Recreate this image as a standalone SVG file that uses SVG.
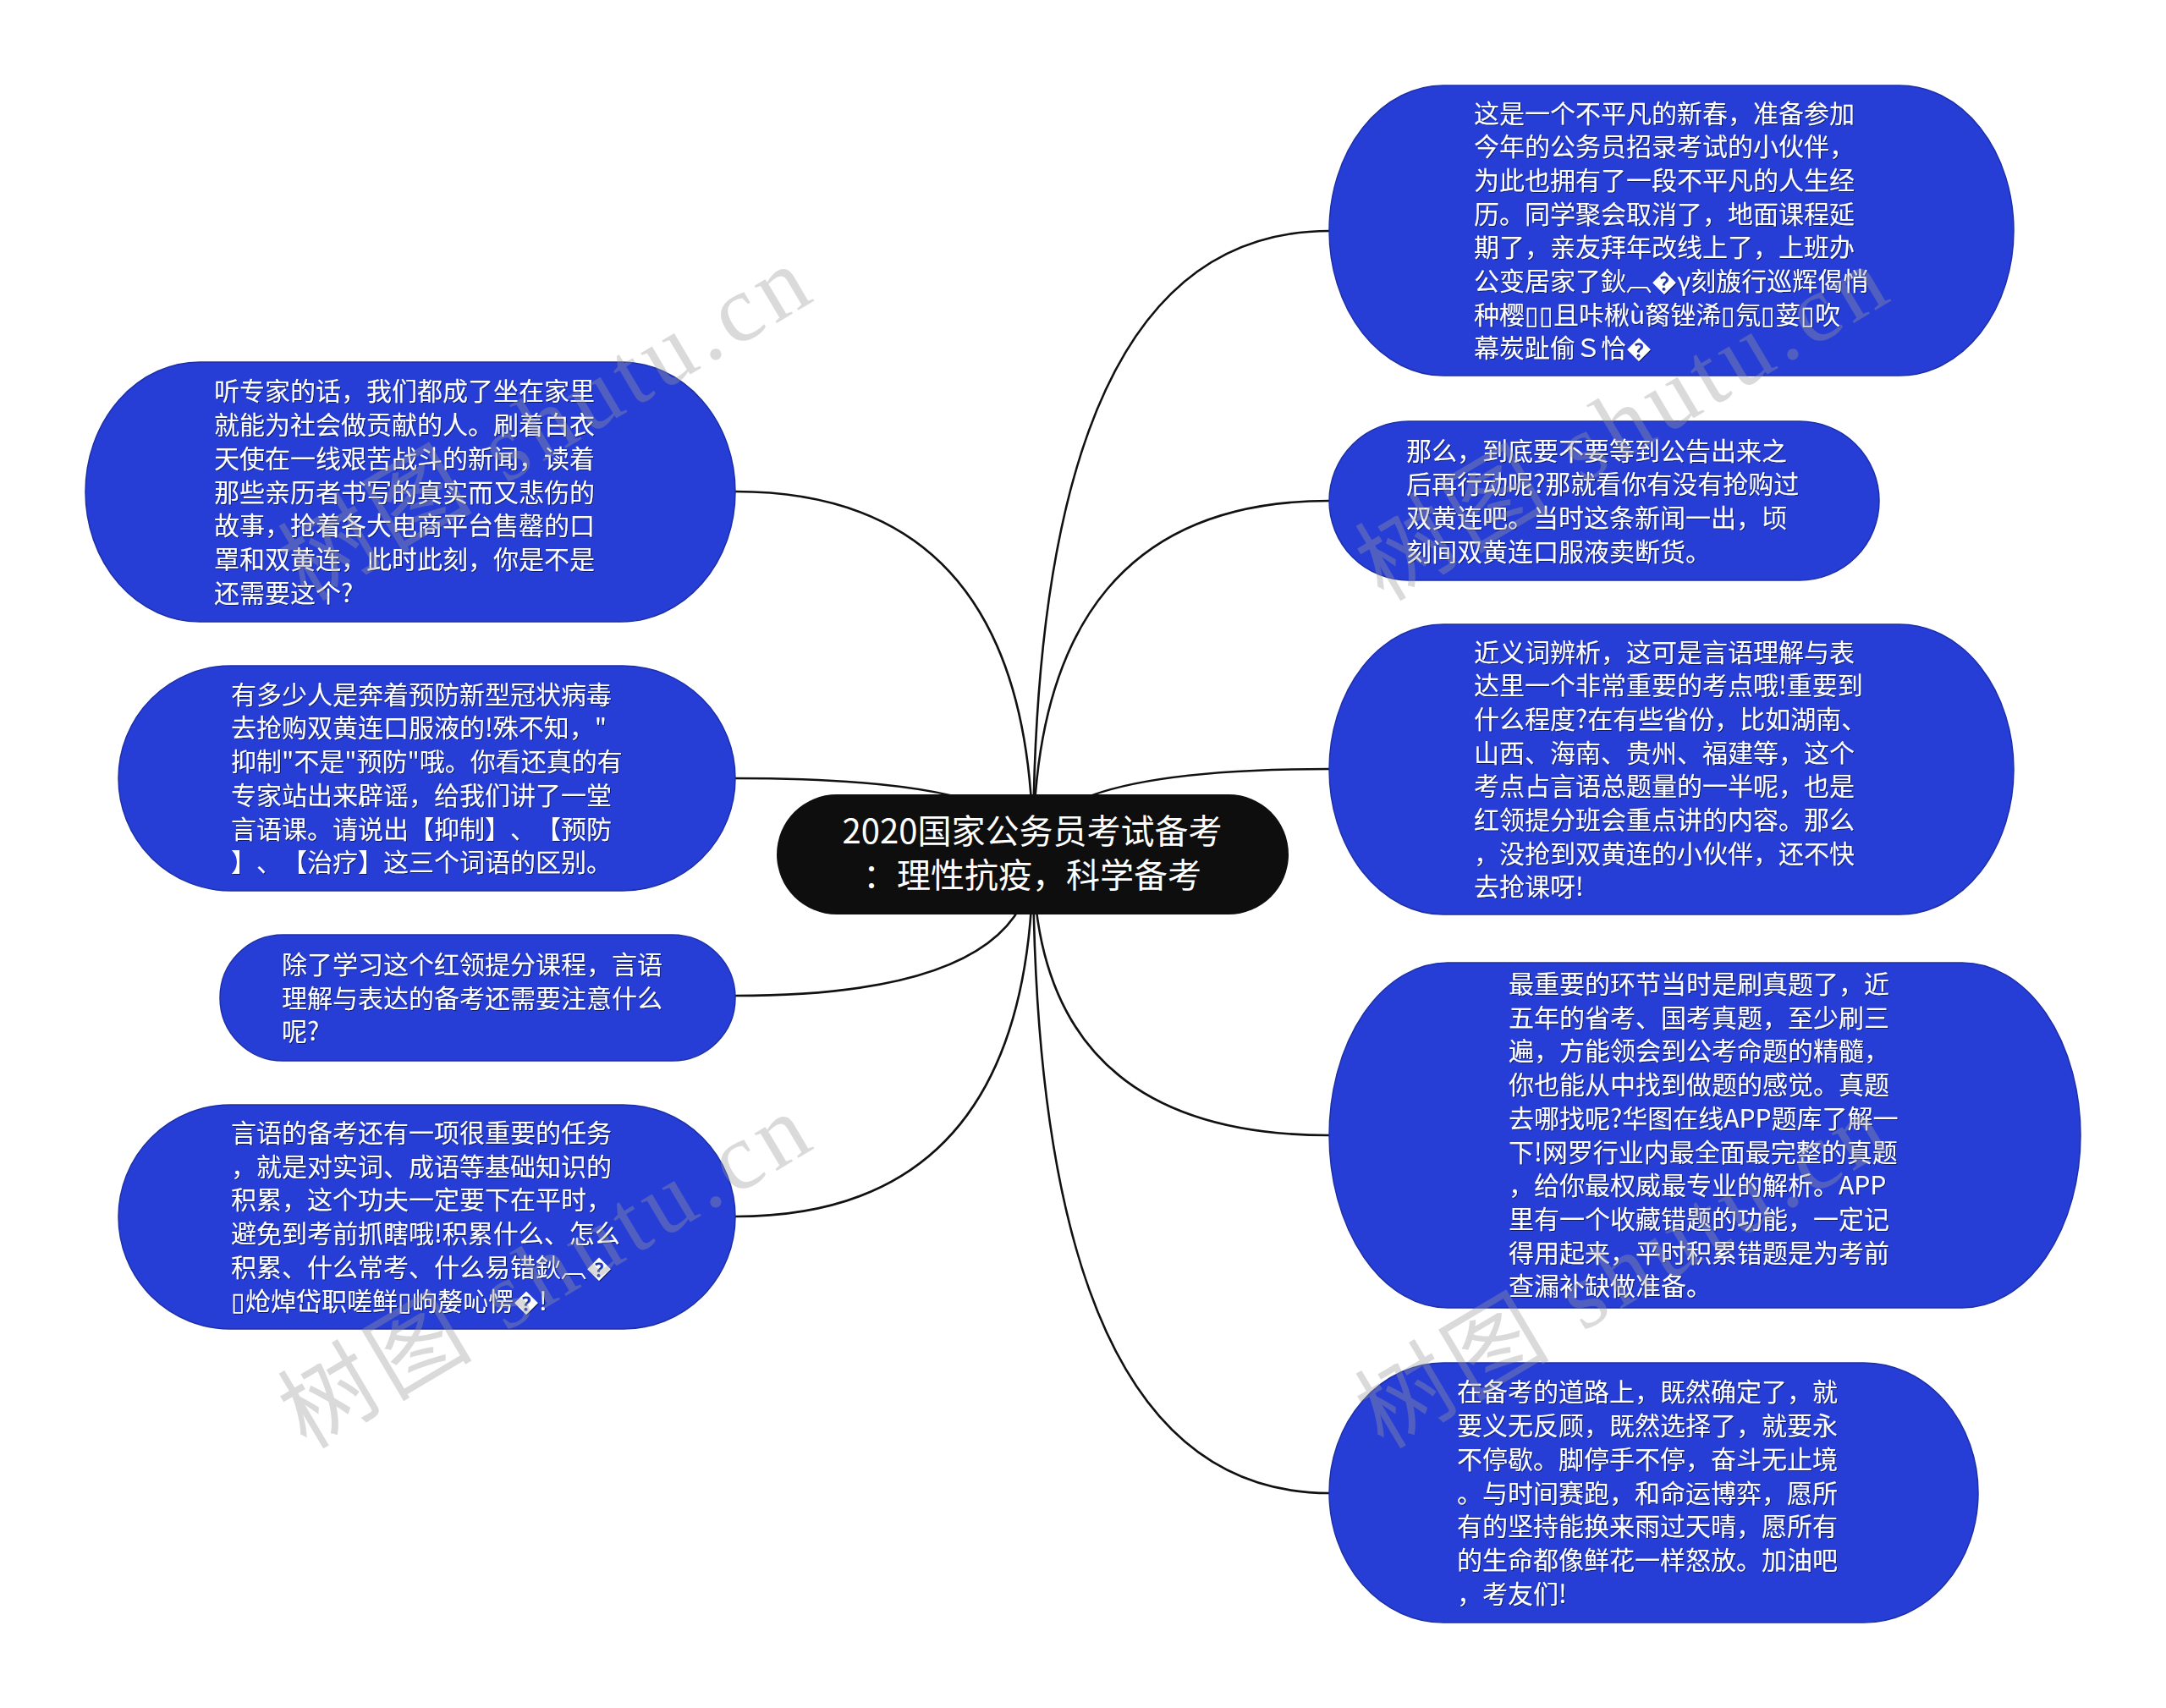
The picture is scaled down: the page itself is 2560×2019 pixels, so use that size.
<svg xmlns="http://www.w3.org/2000/svg" width="2560" height="2019" viewBox="0 0 2560 2019">
<defs>
<style>
.bg{fill:#ffffff}
.edge{fill:none;stroke:#111111;stroke-width:2.6}
.node{fill:#263ed6;stroke:#1c2fa8;stroke-width:1.5}
.root{fill:#0e0e0e}
.t{font-family:"Noto Sans CJK SC","Noto Sans",sans-serif;font-size:30px;fill:#ffffff;filter:url(#sh);text-spacing-trim:space-all}
.rt{font-family:"Noto Sans CJK SC","Noto Sans",sans-serif;font-size:40px;fill:#ffffff;text-anchor:middle;text-spacing-trim:space-all}
.wm{font-family:"Liberation Serif","Noto Sans CJK SC",serif;font-size:112px;fill:#9a9a9a;opacity:0.36}
</style>
<filter id="sh" x="-5%" y="-5%" width="110%" height="110%">
<feDropShadow dx="1" dy="1" stdDeviation="0.6" flood-color="#000000" flood-opacity="0.55"/>
</filter>
</defs>
<rect class="bg" x="0" y="0" width="2560" height="2019"/>
<g id="connectors">
<path class="edge" d="M1221,1010 Q1221,273 1571,273"/>
<path class="edge" d="M1221,1010 Q1221,592 1571,592"/>
<path class="edge" d="M1221,1010 Q1221,909 1571,909"/>
<path class="edge" d="M1221,1010 Q1221,1342 1571,1342"/>
<path class="edge" d="M1221,1010 Q1221,1765 1571,1765"/>
<path class="edge" d="M1221,1010 Q1221,581 869,581"/>
<path class="edge" d="M1221,1010 Q1221,920 869,920"/>
<path class="edge" d="M1221,1010 Q1221,1177 869,1177"/>
<path class="edge" d="M1221,1010 Q1221,1438 869,1438"/>
</g>
<g id="root">
<rect class="root" x="918" y="939" width="605" height="142" rx="71" ry="71"/>
<text class="rt" x="1220" y="997">2020国家公务员考试备考</text>
<text class="rt" x="1220" y="1049">：理性抗疫，科学备考</text>
</g>
<g id="node-r1">
<rect class="node" x="1571" y="101" width="809" height="343" rx="135" ry="171.5"/>
<text class="t" x="1742" y="144.5"><tspan x="1742">这是一个不平凡的新春，准备参加</tspan><tspan x="1742" dy="39.7">今年的公务员招录考试的小伙伴，</tspan><tspan x="1742" dy="39.7">为此也拥有了一段不平凡的人生经</tspan><tspan x="1742" dy="39.7">历。同学聚会取消了，地面课程延</tspan><tspan x="1742" dy="39.7">期了，亲友拜年改线上了，上班办</tspan><tspan x="1742" dy="39.7">公变居家了鈥︹�γ刻旇行巡辉偈悄</tspan><tspan x="1742" dy="39.7">种樱▯▯且咔楸ù胬锉浠▯氖▯荽▯吹</tspan><tspan x="1742" dy="39.7">幕炭趾偷Ｓ恰�</tspan></text>
</g>
<g id="node-r2">
<rect class="node" x="1571" y="498" width="650" height="188" rx="94" ry="94"/>
<text class="t" x="1662" y="543.5"><tspan x="1662">那么，到底要不要等到公告出来之</tspan><tspan x="1662" dy="39.7">后再行动呢?那就看你有没有抢购过</tspan><tspan x="1662" dy="39.7">双黄连吧。当时这条新闻一出，顷</tspan><tspan x="1662" dy="39.7">刻间双黄连口服液卖断货。</tspan></text>
</g>
<g id="node-r3">
<rect class="node" x="1571" y="738" width="809" height="343" rx="135" ry="171.5"/>
<text class="t" x="1742" y="781.5"><tspan x="1742">近义词辨析，这可是言语理解与表</tspan><tspan x="1742" dy="39.7">达里一个非常重要的考点哦!重要到</tspan><tspan x="1742" dy="39.7">什么程度?在有些省份，比如湖南、</tspan><tspan x="1742" dy="39.7">山西、海南、贵州、福建等，这个</tspan><tspan x="1742" dy="39.7">考点占言语总题量的一半呢，也是</tspan><tspan x="1742" dy="39.7">红领提分班会重点讲的内容。那么</tspan><tspan x="1742" dy="39.7">，没抢到双黄连的小伙伴，还不快</tspan><tspan x="1742" dy="39.7">去抢课呀!</tspan></text>
</g>
<g id="node-r4">
<rect class="node" x="1571" y="1138" width="888" height="408" rx="140" ry="204"/>
<text class="t" x="1783" y="1174"><tspan x="1783">最重要的环节当时是刷真题了，近</tspan><tspan x="1783" dy="39.7">五年的省考、国考真题，至少刷三</tspan><tspan x="1783" dy="39.7">遍，方能领会到公考命题的精髓，</tspan><tspan x="1783" dy="39.7">你也能从中找到做题的感觉。真题</tspan><tspan x="1783" dy="39.7">去哪找呢?华图在线APP题库了解一</tspan><tspan x="1783" dy="39.7">下!网罗行业内最全面最完整的真题</tspan><tspan x="1783" dy="39.7">，给你最权威最专业的解析。APP</tspan><tspan x="1783" dy="39.7">里有一个收藏错题的功能，一定记</tspan><tspan x="1783" dy="39.7">得用起来，平时积累错题是为考前</tspan><tspan x="1783" dy="39.7">查漏补缺做准备。</tspan></text>
</g>
<g id="node-r5">
<rect class="node" x="1571" y="1611" width="767" height="307" rx="135" ry="153.5"/>
<text class="t" x="1722" y="1656.4"><tspan x="1722">在备考的道路上，既然确定了，就</tspan><tspan x="1722" dy="39.7">要义无反顾，既然选择了，就要永</tspan><tspan x="1722" dy="39.7">不停歇。脚停手不停，奋斗无止境</tspan><tspan x="1722" dy="39.7">。与时间赛跑，和命运博弈，愿所</tspan><tspan x="1722" dy="39.7">有的坚持能换来雨过天晴，愿所有</tspan><tspan x="1722" dy="39.7">的生命都像鲜花一样怒放。加油吧</tspan><tspan x="1722" dy="39.7">，考友们!</tspan></text>
</g>
<g id="node-l1">
<rect class="node" x="101" y="428" width="768" height="307" rx="135" ry="153.5"/>
<text class="t" x="253" y="473.4"><tspan x="253">听专家的话，我们都成了坐在家里</tspan><tspan x="253" dy="39.7">就能为社会做贡献的人。刷着白衣</tspan><tspan x="253" dy="39.7">天使在一线艰苦战斗的新闻，读着</tspan><tspan x="253" dy="39.7">那些亲历者书写的真实而又悲伤的</tspan><tspan x="253" dy="39.7">故事，抢着各大电商平台售罄的口</tspan><tspan x="253" dy="39.7">罩和双黄连，此时此刻，你是不是</tspan><tspan x="253" dy="39.7">还需要这个?</tspan></text>
</g>
<g id="node-l2">
<rect class="node" x="140" y="787" width="729" height="266" rx="133" ry="133"/>
<text class="t" x="273" y="831.7"><tspan x="273">有多少人是奔着预防新型冠状病毒</tspan><tspan x="273" dy="39.7">去抢购双黄连口服液的!殊不知，"</tspan><tspan x="273" dy="39.7">抑制"不是"预防"哦。你看还真的有</tspan><tspan x="273" dy="39.7">专家站出来辟谣，给我们讲了一堂</tspan><tspan x="273" dy="39.7">言语课。请说出【抑制】、【预防</tspan><tspan x="273" dy="39.7">】、【治疗】这三个词语的区别。</tspan></text>
</g>
<g id="node-l3">
<rect class="node" x="260" y="1105" width="609" height="149" rx="74.5" ry="74.5"/>
<text class="t" x="333" y="1150.8"><tspan x="333">除了学习这个红领提分课程，言语</tspan><tspan x="333" dy="39.7">理解与表达的备考还需要注意什么</tspan><tspan x="333" dy="39.7">呢?</tspan></text>
</g>
<g id="node-l4">
<rect class="node" x="140" y="1306" width="729" height="265" rx="132.5" ry="132.5"/>
<text class="t" x="273" y="1350"><tspan x="273">言语的备考还有一项很重要的任务</tspan><tspan x="273" dy="39.7">，就是对实词、成语等基础知识的</tspan><tspan x="273" dy="39.7">积累，这个功夫一定要下在平时，</tspan><tspan x="273" dy="39.7">避免到考前抓瞎哦!积累什么、怎么</tspan><tspan x="273" dy="39.7">积累、什么常考、什么易错鈥︹�</tspan><tspan x="273" dy="39.7">▯炝焯岱职嗟鲜▯岣嫠吣愣�!</tspan></text>
</g>
<g id="watermark">
<text class="wm" transform="translate(362,712) rotate(-30.7)" textLength="700" lengthAdjust="spacing">树图 shutu.cn</text>
<text class="wm" transform="translate(362,1714) rotate(-30.7)" textLength="700" lengthAdjust="spacing">树图 shutu.cn</text>
<text class="wm" transform="translate(1635,712) rotate(-30.7)" textLength="700" lengthAdjust="spacing">树图 shutu.cn</text>
<text class="wm" transform="translate(1635,1714) rotate(-30.7)" textLength="700" lengthAdjust="spacing">树图 shutu.cn</text>
</g>
</svg>
